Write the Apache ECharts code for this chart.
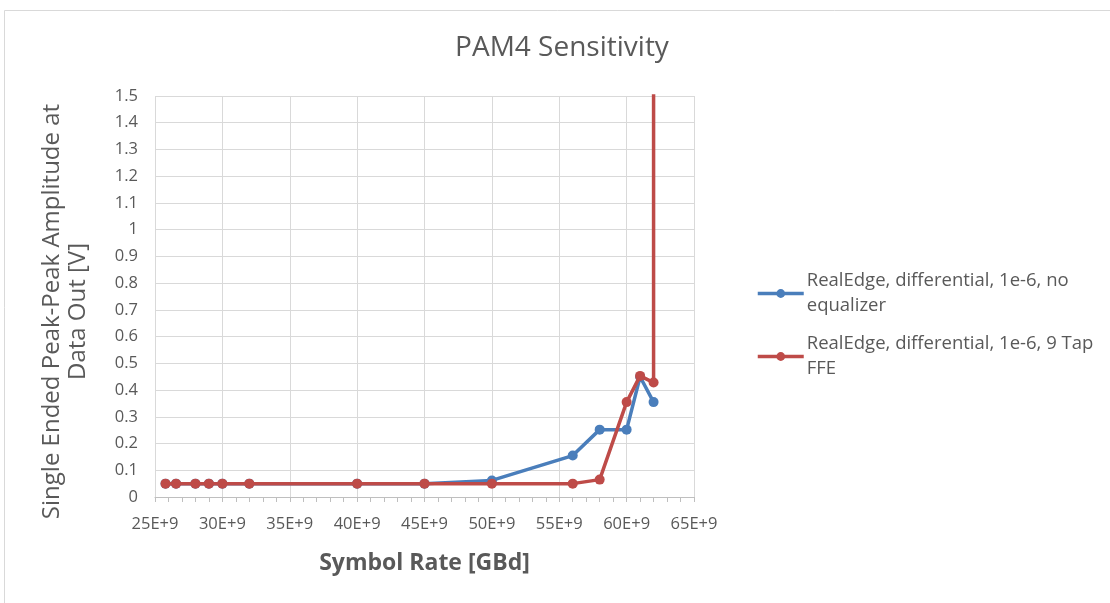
<!DOCTYPE html>
<html>
<head>
<meta charset="utf-8">
<script src="https://cdn.jsdelivr.net/npm/echarts@6/dist/echarts.min.js"></script>
<style>
html,body{margin:0;padding:0;background:#fff;}
#chart{width:1110px;height:603px;}
</style>
</head>
<body>
<div id="chart"></div>
<script>
// Symbol rate (Hz) and amplitude (V)
var rateBlue = [25.78e9, 26.56e9, 28e9, 29e9, 30e9, 32e9, 40e9, 45e9, 50e9, 56e9, 58e9, 60e9, 61e9, 62e9];
var ampBlue  = [0.05, 0.05, 0.05, 0.05, 0.05, 0.05, 0.05, 0.05, 0.062, 0.155, 0.252, 0.252, 0.45, 0.355];
var rateRed  = [25.78e9, 26.56e9, 28e9, 29e9, 30e9, 32e9, 40e9, 45e9, 50e9, 56e9, 58e9, 60e9, 61e9, 62e9, 62e9];
var ampRed   = [0.05, 0.05, 0.05, 0.05, 0.05, 0.05, 0.05, 0.05, 0.05, 0.05, 0.065, 0.355, 0.453, 0.428, 2.0];
var nameBlue = 'RealEdge, differential, 1e-6, no equalizer';
var nameRed  = 'RealEdge, differential, 1e-6, 9 Tap FFE';
var legendLines = {};
legendLines[nameBlue] = 'RealEdge, differential, 1e-6, no\nequalizer';
legendLines[nameRed]  = 'RealEdge, differential, 1e-6, 9 Tap\nFFE';

function zip(xs, ys){ return xs.map(function(x,i){ return [x, ys[i]]; }); }

var FONT = '"Open Sans", "Noto Sans", sans-serif';
var GREY = '#595959';
var LH = 25;

function legendFor(name, top){
  return {
    data: [name],
    left: 751,
    top: top,
    orient: 'vertical',
    itemWidth: 46,
    itemHeight: 11,
    lineStyle: { width: 3.5 },
    formatter: function(n){ return legendLines[n]; },
    textStyle: { fontFamily: FONT, fontSize: 18.5, color: GREY, lineHeight: LH, padding: [LH, 0, 0, -2] }
  };
}

var chart = echarts.init(document.getElementById('chart'), null, {renderer: 'canvas'});
chart.setOption({
  backgroundColor: '#ffffff',
  animation: false,
  title: {
    text: 'PAM4 Sensitivity',
    left: 557, top: 29, textAlign: 'center',
    textStyle: { fontFamily: FONT, fontSize: 28, fontWeight: 'normal', color: GREY }
  },
  graphic: [{
    type: 'rect', shape: { x: 4.5, y: 10.5, width: 1300, height: 800 },
    style: { fill: 'none', stroke: '#d9d9d9', lineWidth: 1 }, silent: true, z: -1
  }],
  legend: [legendFor(nameBlue, 251), legendFor(nameRed, 314)],
  grid: { left: 155, right: 416, top: 96, bottom: 106, containLabel: false },
  xAxis: {
    type: 'value', min: 25e9, max: 65e9, interval: 5e9,
    name: 'Symbol Rate [GBd]', nameLocation: 'middle', nameGap: 55,
    nameTextStyle: { fontFamily: FONT, fontSize: 23, fontWeight: 'bold', color: GREY },
    axisLine: { show: true, onZero: false, lineStyle: { color: '#bfbfbf', width: 1 } },
    axisTick: { show: true, length: 5, lineStyle: { color: '#bfbfbf' } },
    minorTick: { show: true, splitNumber: 5, length: 5, lineStyle: { color: '#bfbfbf' } },
    axisLabel: { fontFamily: FONT, fontSize: 16.5, color: GREY, margin: 19,
      formatter: function(v){ return Math.round(v/1e9) + 'E+9'; } },
    splitLine: { show: true, lineStyle: { color: '#d9d9d9', width: 1 } }
  },
  yAxis: {
    type: 'value', min: 0, max: 1.5, interval: 0.1,
    name: 'Single Ended Peak-Peak Amplitude at\nData Out [V]', nameLocation: 'middle', nameGap: 64, nameRotate: 90,
    nameTextStyle: { fontFamily: FONT, fontSize: 24, color: GREY, lineHeight: 26, padding: [0, 30, 0, 0] },
    axisLine: { show: false },
    axisTick: { show: false },
    axisLabel: { fontFamily: FONT, fontSize: 16.5, color: GREY, margin: 17 },
    splitLine: { show: true, lineStyle: { color: '#d9d9d9', width: 1 } }
  },
  series: [{
    name: nameBlue, type: 'line', data: zip(rateBlue, ampBlue),
    symbol: 'circle', symbolSize: 10, showSymbol: true,
    lineStyle: { color: '#4a7ebb', width: 3.5 }, itemStyle: { color: '#4a7ebb' },
    clip: true, z: 2
  }, {
    name: nameRed, type: 'line', data: zip(rateRed, ampRed),
    symbol: 'circle', symbolSize: 10, showSymbol: true,
    lineStyle: { color: '#be4b48', width: 3.5 }, itemStyle: { color: '#be4b48' },
    clip: true, z: 3
  }]
});
</script>
</body>
</html>
